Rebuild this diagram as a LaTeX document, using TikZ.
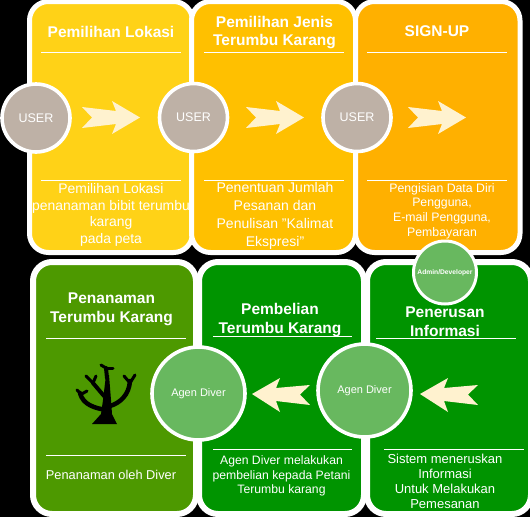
\documentclass[tikz,border=0pt]{standalone}
\usepackage{fontspec}
\setmainfont{Liberation Sans}
\definecolor{cA}{HTML}{FFD217}
\definecolor{cB}{HTML}{FFC000}
\definecolor{cC}{HTML}{FFB000}
\definecolor{cD}{HTML}{4D9900}
\definecolor{cE}{HTML}{009400}
\definecolor{cGrey}{HTML}{BEB1A6}
\definecolor{cGreen}{HTML}{68B85F}
\definecolor{cArrow}{HTML}{FFF2CF}
\tikzset{
  panel/.style={draw=white,line width=5pt,rounded corners=19pt},
  panelb/.style={draw=white,line width=6pt,rounded corners=19pt},
  rulew/.style={draw=white,line width=0.8pt},
  hole/.style={circle,draw=white,line width=3.6pt,inner sep=0pt,text=white,align=center},
  usernode/.style={hole,fill=cGrey,minimum size=68pt,font=\fontsize{12.5}{14}\selectfont},
  agen/.style={hole,fill=cGreen,minimum size=93pt,font=\fontsize{11}{13}\selectfont},
  admin/.style={hole,fill=cGreen,minimum size=63pt,line width=3pt,font=\fontsize{6.7}{9}\selectfont\bfseries},
  ttl/.style={text=white,align=center,font=\fontsize{15.5}{18.8}\selectfont\bfseries,inner sep=0pt},
  body/.style={text=white,align=center,font=\fontsize{13.9}{16.5}\selectfont,inner sep=0pt},
  bodys/.style={text=white,align=center,font=\fontsize{12.3}{14.7}\selectfont,inner sep=0pt},
  arrowfill/.style={fill=cArrow,draw=none},
  tree/.style={draw=black,line cap=round,line join=round}
}
\begin{document}
\begin{tikzpicture}[x=1pt,y=-1pt]
\useasboundingbox (0,0) rectangle (530,517);
\fill[black] (0,0) rectangle (530,517);
% panels
\draw[panel,fill=cA] (29.5,1.5) rectangle (192.5,252.5);
\draw[panel,fill=cB] (191.5,1.5) rectangle (355.5,252.5);
\draw[panel,fill=cC] (355.5,1.5) rectangle (520,252.5);
\draw[panelb,fill=cD] (33,262) rectangle (196,514);
\draw[panelb,fill=cE] (199,262) rectangle (364,514);
\draw[panelb,fill=cE] (367,262) rectangle (531,514);
% rules
\coordinate (r1a) at (41,52); \coordinate (r1b) at (181,52);
\coordinate (r2a) at (204,52); \coordinate (r2b) at (344,52);
\coordinate (r3a) at (367,52); \coordinate (r3b) at (507,52);
\coordinate (s1a) at (41,180); \coordinate (s1b) at (181,180);
\coordinate (s2a) at (204,180); \coordinate (s2b) at (344,180);
\coordinate (s3a) at (367,180); \coordinate (s3b) at (507,180);
\coordinate (r4a) at (46,338); \coordinate (r4b) at (186,338);
\coordinate (r5a) at (213,336); \coordinate (r5b) at (352,336);
\coordinate (r6a) at (376,338); \coordinate (r6b) at (516,338);
\coordinate (s4a) at (46,455); \coordinate (s4b) at (186,455);
\coordinate (s5a) at (213,449); \coordinate (s5b) at (352,449);
\coordinate (s6a) at (384,449); \coordinate (s6b) at (524,449);
\foreach \p in {r1,r2,r3,s1,s2,s3,r4,r5,r6,s4,s5,s6} \draw[rulew] (\p a) -- (\p b);
% arrows
\foreach \d in {0,164,326}
  \fill[arrowfill,xshift=\d pt] (82,107) -- (116,111) -- (112,101) -- (140,117.5) -- (112,134) -- (116,124) -- (82,128) -- (92,117.5) -- cycle;
\foreach \d in {0,-168}
  \fill[arrowfill,xshift=\d pt] (420,394) -- (448,378) -- (444,388) -- (478,385) -- (468,394.5) -- (478,405) -- (444,401) -- (448,412) -- cycle;
% circles
\node[usernode] (u1) at (36,118) {USER};
\node[usernode] (u2) at (193.5,117.5) {USER};
\node[usernode] (u3) at (357,117.5) {USER};
\node[agen] (g1) at (198.5,393.5) {Agen Diver};
\node[agen] (g2) at (364.5,390.5) {Agen Diver};
\node[admin] (ad) at (445,272.5) {Admin/Developer};
% titles
\node[ttl] (t1) at (111,31.5) {Pemilihan Lokasi};
\node[ttl] (t2) at (274.5,32.5) {Pemilihan Jenis\\Terumbu Karang};
\node[ttl] (t3) at (437,31.5) {SIGN-UP};
\node[ttl] (t4) at (111.5,309.5) {Penanaman\\Terumbu Karang};
\node[ttl] (t5) at (280,320) {Pembelian\\Terumbu Karang};
\node[ttl] (t6) at (445,322) {Penerusan\\Informasi};
% bodies
\node[body] (b1) at (111,215) {Pemilihan Lokasi\\penanaman bibit terumbu\\karang\\pada peta};
\node[body,font=\fontsize{14}{18}\selectfont] (b2) at (275,215.5) {Penentuan Jumlah\\Pesanan dan\\Penulisan "Kalimat\\Ekspresi"};
\node[bodys] (b3) at (442,211) {Pengisian Data Diri\\Pengguna,\\E-mail Pengguna,\\Pembayaran};
\node[body,font=\fontsize{12.8}{15}\selectfont] (b4) at (111,475) {Penanaman oleh Diver};
\node[bodys,font=\fontsize{12.2}{14.6}\selectfont] (b5) at (281.5,476) {Agen Diver melakukan\\pembelian kepada Petani\\Terumbu karang};
\node[body,font=\fontsize{13}{15.2}\selectfont] (b6) at (445,481.5) {Sistem meneruskan\\Informasi\\Untuk Melakukan\\Pemesanan};
% tree
\begin{scope}[tree]
  \fill[black] (92,424) -- (117,424) -- (112,414) -- (111,400) -- (109,375) -- (106,375) -- (103,400) -- (101,414) -- cycle;
  \draw[line width=4pt] (107,378) -- (106,368);
  \draw[line width=3pt] (106,368) -- (101,365);
  \draw[line width=3pt] (106,368) -- (113,368);
  \draw[line width=4pt] (104,396) -- (93,383);
  \draw[line width=3pt] (93,383) -- (86,376);
  \draw[line width=3pt] (93,383) -- (96,376);
  \draw[line width=4.5pt] (106,410) .. controls (95,408) and (83,405) .. (80,393);
  \draw[line width=3pt] (80,393) -- (77,390);
  \draw[line width=3pt] (80,395) -- (87,391);
  \draw[line width=4.5pt] (110,406) .. controls (120,403) and (129,395) .. (130,381);
  \draw[line width=3pt] (130,383) -- (124,376);
  \draw[line width=3pt] (130,383) -- (135,375);
\end{scope}
\end{tikzpicture}
\end{document}
